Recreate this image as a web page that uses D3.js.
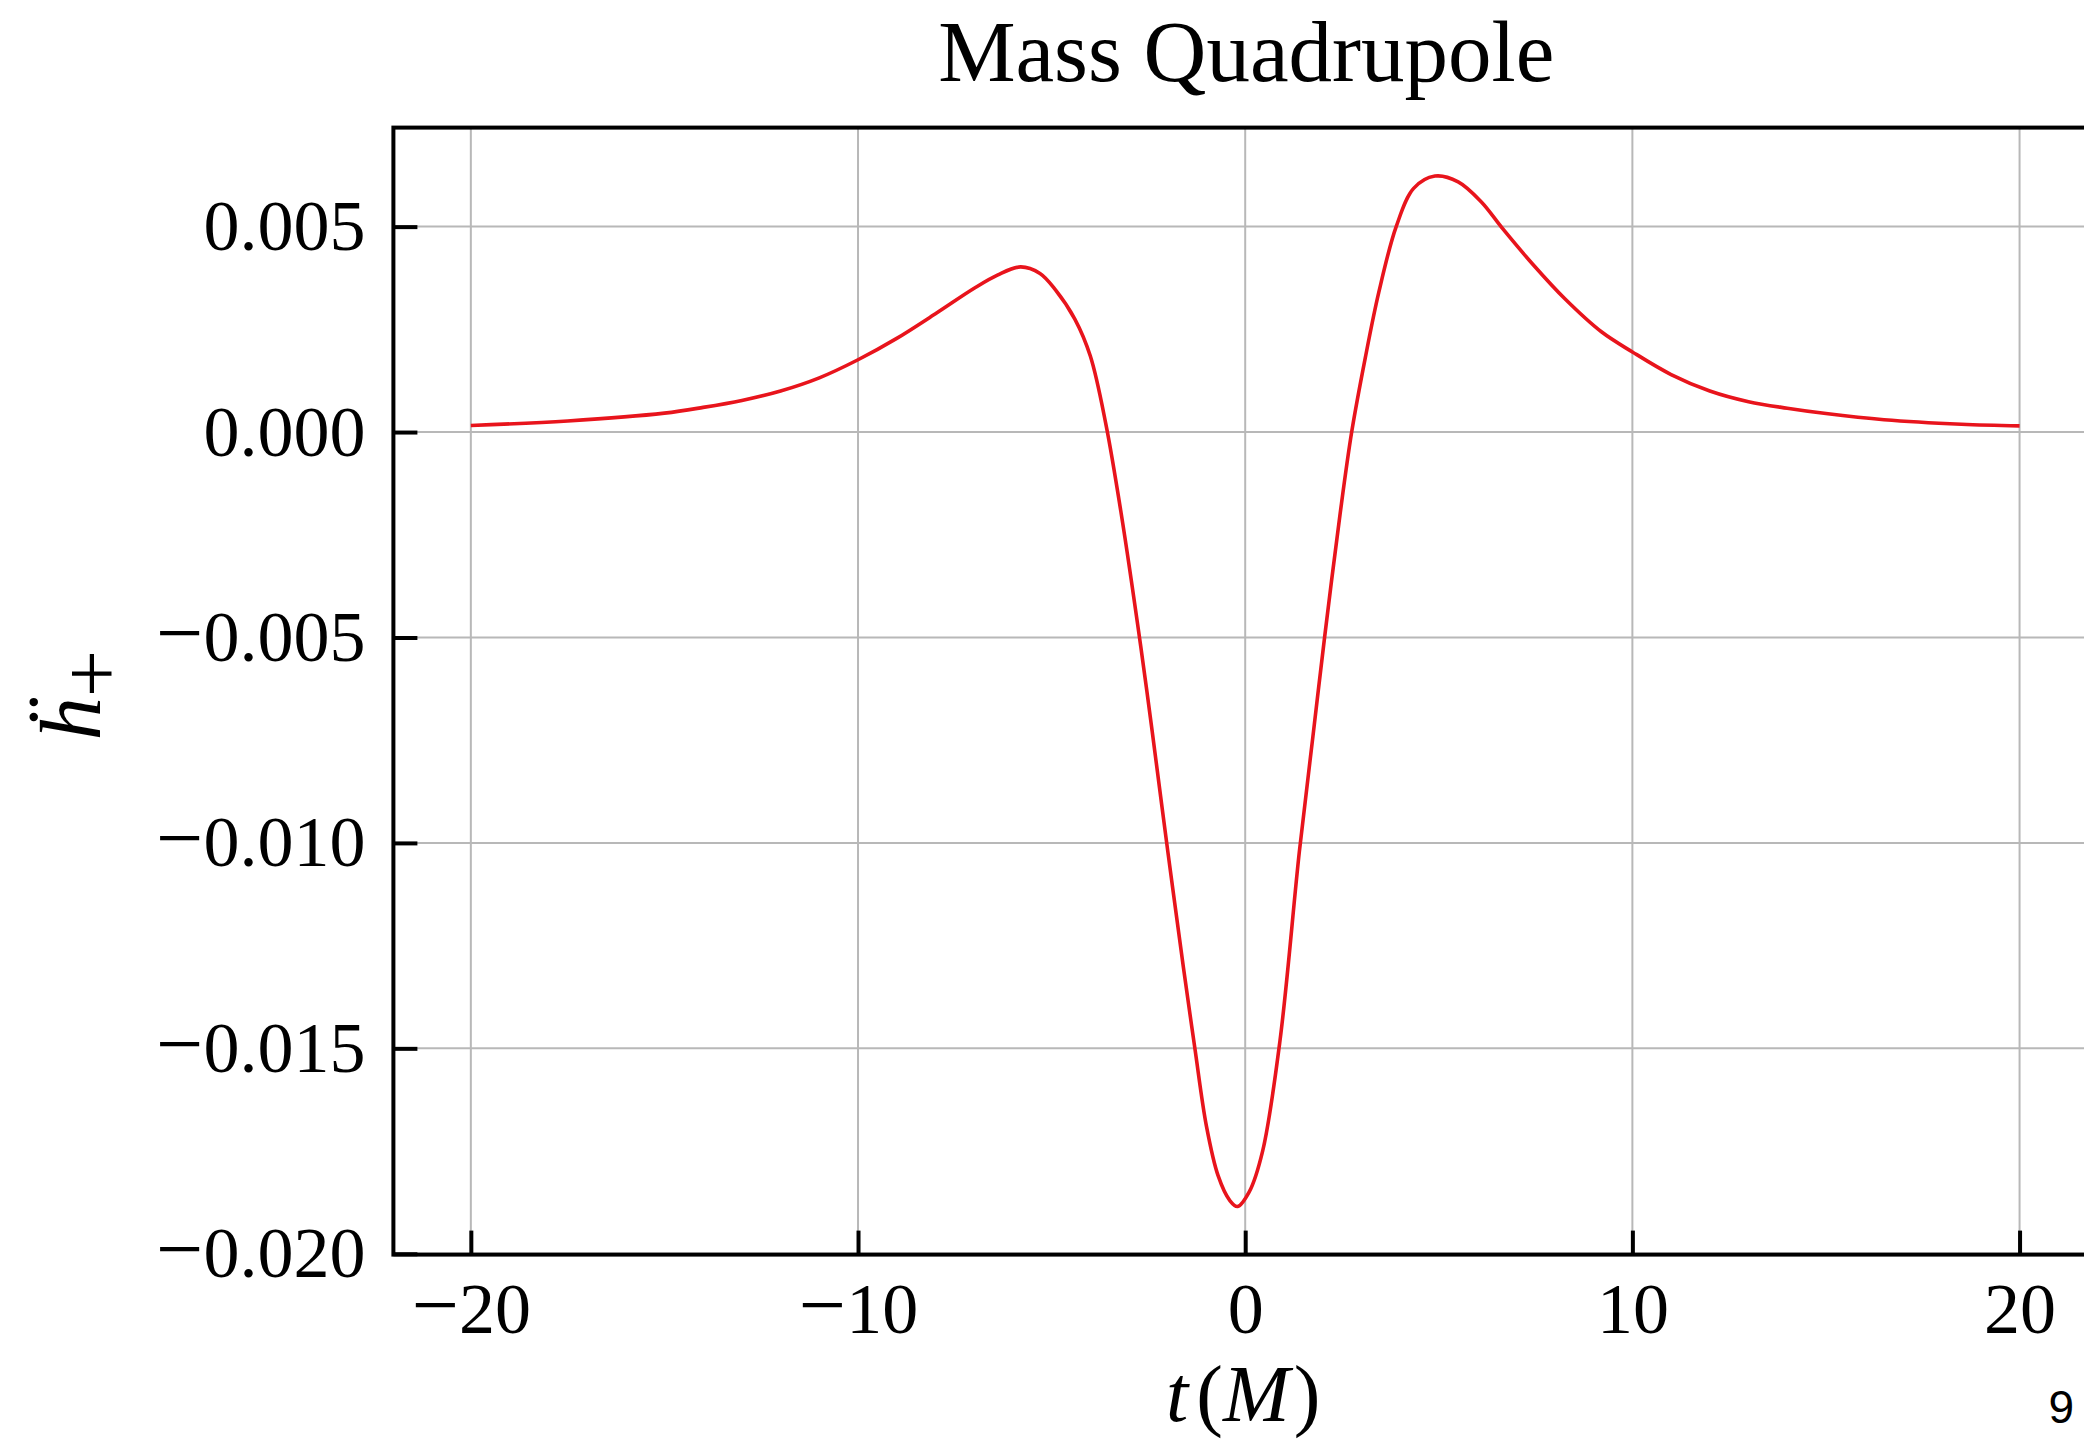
<!DOCTYPE html>
<html>
<head>
<meta charset="utf-8">
<script src="https://cdn.jsdelivr.net/npm/d3@7"></script>
<style>
  body { margin: 0; background: #fff; }
  svg { display: block; }
</style>
</head>
<body>
<div id="chart"></div>
<script>
// waveform: t in M, second derivative of h+
const tValues = [-20, -17.5, -15, -14, -13, -12, -11, -10, -9, -8, -7, -6.4, -5.8, -5.3, -4.9, -4.4, -4.0, -3.6, -3.2, -2.7, -2.4, -2.0, -1.6, -1.3, -1.0, -0.7, -0.4, -0.2, 0.1, 0.45, 0.9, 1.4, 1.75, 2.05, 2.45, 2.75, 3.1, 3.45, 3.9, 4.35, 4.9, 5.5, 6.1, 6.65, 7.45, 8.25, 9.2, 10, 11, 12, 13, 14, 15, 16.5, 18.5, 20];
const hddValues = [0.00016, 0.00027, 0.00046, 0.00060, 0.00077, 0.00100, 0.00132, 0.00176, 0.00228, 0.00288, 0.00350, 0.00382, 0.00402, 0.00386, 0.00346, 0.00275, 0.00185, 0.00020, -0.0020, -0.0052, -0.0073, -0.0102, -0.0130, -0.0150, -0.0169, -0.0181, -0.0187, -0.01885, -0.0185, -0.0175, -0.0148, -0.0102, -0.0074, -0.0050, -0.0020, 0.0000, 0.0018, 0.0034, 0.0050, 0.00593, 0.00623, 0.00609, 0.00560, 0.00495, 0.00406, 0.00325, 0.00244, 0.00195, 0.00140, 0.00100, 0.00074, 0.00058, 0.00045, 0.00030, 0.00019, 0.00015];

const xTicks = [-20, -10, 0, 10, 20];
const yTicks = [-0.020, -0.015, -0.010, -0.005, 0.000, 0.005];

const titleText = "Mass Quadrupole";
const pageNumber = "9";

const W = 2084, H = 1441;
const margin = {top: 127.6, left: 393.4};
const width = 1703.6;   // right spine falls just past the page edge
const height = 1127;

const serif = "'Liberation Serif', 'Times New Roman', serif";

const svg = d3.select("#chart")
    .append("svg")
    .attr("width", W)
    .attr("height", H)
    .style("background", "#fff");

const g = svg.append("g")
    .attr("transform", `translate(${margin.left},${margin.top})`);

const xScale = d3.scaleLinear().domain([-22, 22]).range([0, width]);
const yScale = d3.scaleLinear().domain([-0.02002, 0.00741]).range([height, 0]);

// grid
g.append("g")
    .selectAll("line")
    .data(xTicks)
    .join("line")
    .attr("x1", d => xScale(d)).attr("x2", d => xScale(d))
    .attr("y1", 0).attr("y2", height)
    .attr("stroke", "#b8b8b8")
    .attr("stroke-width", 2);

g.append("g")
    .selectAll("line")
    .data(yTicks)
    .join("line")
    .attr("x1", 0).attr("x2", width)
    .attr("y1", d => yScale(d)).attr("y2", d => yScale(d))
    .attr("stroke", "#b8b8b8")
    .attr("stroke-width", 2);

// axes, ticks pointing inward
const xAxis = g.append("g")
    .attr("transform", `translate(0,${height})`)
    .call(d3.axisBottom(xScale)
        .tickValues(xTicks)
        .tickSizeInner(-24)
        .tickSizeOuter(0)
        .tickPadding(27)
        .tickFormat(d3.format("d")));

const yAxis = g.append("g")
    .call(d3.axisLeft(yScale)
        .tickValues(yTicks)
        .tickSizeInner(-24)
        .tickSizeOuter(0)
        .tickPadding(28)
        .tickFormat(d3.format(".3f")));

[xAxis, yAxis].forEach(ax => {
    ax.select(".domain").remove();
    ax.selectAll(".tick line").attr("stroke", "#000").attr("stroke-width", 4);
    ax.selectAll(".tick text")
        .attr("fill", "#000")
        .style("font-family", serif)
        .style("font-size", "72px")
        .each(function() {
            // the math font has a longer minus sign
            const s = this.textContent;
            if (s[0] !== "\u2212") return;
            const t = d3.select(this).text("");
            t.append("tspan").style("font-size", "84px").text("\u2212");
            t.append("tspan").text(s.slice(1));
        });
});

// waveform
const points = tValues.map((t, i) => [t, hddValues[i]]);
g.append("path")
    .datum(points)
    .attr("fill", "none")
    .attr("stroke", "#e8141c")
    .attr("stroke-width", 3.6)
    .attr("stroke-linejoin", "round")
    .attr("d", d3.line()
        .x(d => xScale(d[0]))
        .y(d => yScale(d[1]))
        .curve(d3.curveCatmullRom.alpha(0.5)));

// spines
g.append("rect")
    .attr("x", 0).attr("y", 0)
    .attr("width", width).attr("height", height)
    .attr("fill", "none")
    .attr("stroke", "#000")
    .attr("stroke-width", 4);

// title
svg.append("text")
    .attr("x", margin.left + xScale(0) + 1)
    .attr("y", 81)
    .attr("text-anchor", "middle")
    .style("font-family", serif)
    .style("font-size", "87px")
    .text(titleText);

// x label: t (M)
const xLabel = svg.append("text")
    .attr("x", margin.left + xScale(0) - 2)
    .attr("y", 1421)
    .attr("text-anchor", "middle")
    .style("font-family", serif)
    .style("font-size", "80px");
xLabel.append("tspan").style("font-style", "italic").text("t");
xLabel.append("tspan").attr("dx", 8).text("(");
xLabel.append("tspan").style("font-style", "italic").text("M");
xLabel.append("tspan").attr("dx", 4).text(")");

// y label: h double dot, subscript plus
const yLabel = svg.append("text")
    .attr("transform", "translate(100,695) rotate(-90)")
    .attr("text-anchor", "middle")
    .style("font-family", serif)
    .style("font-size", "86px");
yLabel.append("tspan").style("font-style", "italic").text("\u1E27");
yLabel.append("tspan").attr("dx", 0).attr("dy", 20).style("font-size", "84px").text("+");

// slide number
svg.append("text")
    .attr("x", 2074)
    .attr("y", 1423)
    .attr("text-anchor", "end")
    .style("font-family", "'Liberation Sans', Arial, sans-serif")
    .style("font-size", "46px")
    .text(pageNumber);
</script>
</body>
</html>
